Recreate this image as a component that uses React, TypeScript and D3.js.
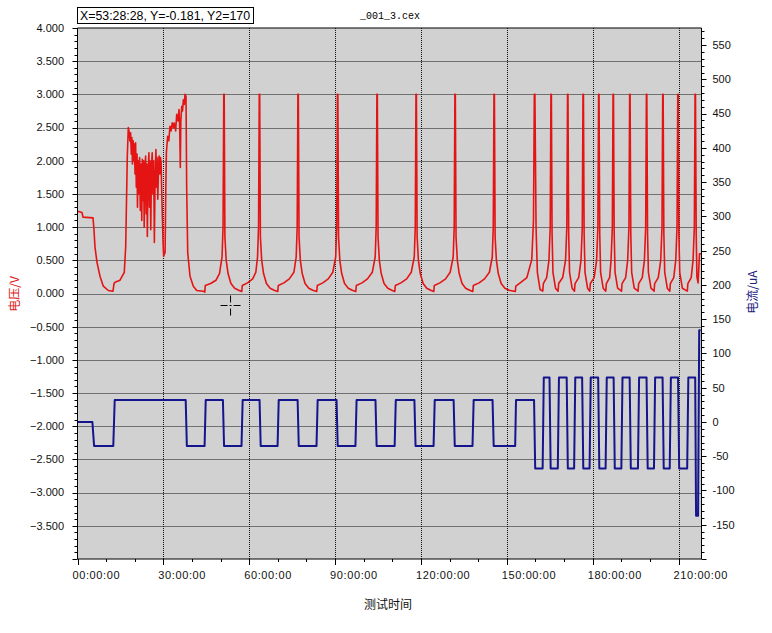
import React, { useMemo } from "react";
import * as d3 from "d3";

const W = 772;
const H = 633;
const M = { left: 77.5, right: 701.5, top: 28, bottom: 559 };

// time axis (hours)
const xDomain: [number, number] = [0, 218];
const xMajorTicks = [0, 30, 60, 90, 120, 150, 180, 210];
const xMinorStep = 10;

// left axis (voltage V)
const yLeftDomain: [number, number] = [-4, 4];
const yLeftLabels = [4, 3.5, 3, 2.5, 2, 1.5, 1, 0.5, 0, -0.5, -1, -1.5, -2, -2.5, -3, -3.5];
const yLeftGrid = [3.5, 3, 2.5, 2, 1.5, 1, 0.5, 0, -0.5, -1, -1.5, -2, -2.5, -3, -3.5];

// right axis (current uA)
const yRightDomain: [number, number] = [-200, 575];
const yRightLabels = [550, 500, 450, 400, 350, 300, 250, 200, 150, 100, 50, 0, -50, -100, -150];

const headerText = "X=53:28:28, Y=-0.181, Y2=170";
const titleText = "_001_3.cex";
const cursor = { t: 53.47, v: -0.181 };

// voltage [hours, V]
const voltage: [number, number][] = [
  [0, 1.24], [1.57, 1.22], [1.92, 1.15], [5.42, 1.14], [5.77, 0.95], [6.11, 0.7], [6.81, 0.47], [7.86, 0.26],
  [9.01, 0.11], [10.76, 0.045], [12.4, 0.035], [12.75, 0.15], [13.1, 0.17], [14.85, 0.2], [16.35, 0.32],
  [16.84, 0.71], [17.4, 2.07], [17.75, 2.5],
  [18.0, 2.45], [18.3, 2.3], [18.55, 2.42], [18.8, 2.1], [19.0, 2.35], [19.2, 1.95], [19.45, 2.3], [19.65, 2.0],
  [19.9, 2.25], [20.1, 1.8], [20.3, 2.27], [20.55, 1.6], [20.8, 2.1], [20.95, 1.3], [21.2, 2.0], [21.45, 1.5],
  [21.7, 2.05], [21.95, 1.25], [22.2, 1.95], [22.45, 1.1], [22.65, 2.02], [22.9, 1.4], [23.1, 2.0], [23.3, 1.0],
  [23.55, 1.9], [23.8, 2.07], [24.0, 1.2], [24.2, 1.95], [24.4, 0.86], [24.65, 1.8], [24.95, 2.12], [25.15, 1.3],
  [25.35, 2.0], [25.6, 0.96], [25.85, 1.9], [26.1, 2.12], [26.35, 1.5], [26.6, 2.0], [26.85, 0.77], [27.1, 1.7],
  [27.4, 2.17], [27.6, 1.6], [27.8, 2.05], [28.05, 1.42], [28.3, 1.9], [28.5, 2.07], [28.75, 1.8], [29.0, 2.05],
  [29.2, 1.97], [29.45, 1.5], [29.65, 1.16], [29.9, 0.75], [30.1, 0.56], [30.4, 0.6], [30.6, 0.62], [30.85, 1.6],
  [31.05, 2.12], [31.5, 2.37], [31.9, 2.3], [32.3, 2.52], [32.7, 2.45], [33.1, 2.57], [33.5, 2.5], [33.8, 2.57],
  [34.3, 2.45], [34.66, 2.7], [35.1, 2.6], [35.46, 2.77], [35.7, 2.5], [35.92, 1.9], [36.1, 2.6], [36.41, 2.82],
  [36.7, 2.75], [36.97, 2.92], [37.3, 2.85], [37.56, 3.0], [37.91, 2.97],
  [38.15, 1.57], [38.5, 0.62], [39.31, 0.26], [40.46, 0.11], [41.65, 0.045], [43.96, 0.035], [44.45, 0.02],
  // C1
  [44.65, 0.12], [46.5, 0.15], [48.4, 0.2], [49.6, 0.3], [50.5, 0.55], [50.85, 1.0], [51.1, 3.0], [51.25, 3.0],
  [51.5, 0.85], [51.95, 0.5], [52.6, 0.3], [53.6, 0.15], [54.9, 0.08], [56.3, 0.05], [57.38, 0.03],
  // C2
  [57.58, 0.12], [59.4, 0.16], [61.2, 0.22], [62.3, 0.32], [62.9, 0.55], [63.25, 1.0], [63.5, 3.0], [63.65, 3.0],
  [63.9, 0.85], [64.35, 0.5], [65.0, 0.3], [66.0, 0.15], [67.3, 0.08], [68.7, 0.05], [69.96, 0.03],
  // C3
  [70.16, 0.12], [72.1, 0.16], [74.0, 0.22], [75.6, 0.32], [76.4, 0.55], [76.75, 1.0], [77.0, 3.0], [77.15, 3.0],
  [77.4, 0.85], [77.85, 0.5], [78.5, 0.3], [79.5, 0.15], [80.8, 0.08], [82.2, 0.05], [83.58, 0.03],
  // C4
  [83.78, 0.12], [85.7, 0.16], [87.6, 0.22], [89.2, 0.32], [90.2, 0.55], [90.55, 1.0], [90.8, 3.0], [90.95, 3.0],
  [91.2, 0.85], [91.65, 0.5], [92.3, 0.3], [93.3, 0.15], [94.6, 0.08], [96.0, 0.05], [97.21, 0.03],
  // C5
  [97.41, 0.12], [99.4, 0.16], [101.3, 0.22], [103.0, 0.32], [104.0, 0.55], [104.35, 1.0], [104.6, 3.0], [104.75, 3.0],
  [105.0, 0.85], [105.45, 0.5], [106.1, 0.3], [107.1, 0.15], [108.4, 0.08], [109.8, 0.05], [110.84, 0.03],
  // C6
  [111.04, 0.12], [113.0, 0.16], [115.0, 0.22], [116.6, 0.32], [117.65, 0.55], [118.0, 1.0], [118.25, 3.0], [118.4, 3.0],
  [118.65, 0.85], [119.1, 0.5], [119.75, 0.3], [120.75, 0.15], [122.0, 0.08], [123.4, 0.05], [124.46, 0.03],
  // C7
  [124.66, 0.12], [126.6, 0.16], [128.6, 0.22], [130.2, 0.32], [131.25, 0.55], [131.6, 1.0], [131.85, 3.0], [132.0, 3.0],
  [132.25, 0.85], [132.7, 0.5], [133.35, 0.3], [134.35, 0.15], [135.6, 0.08], [137.0, 0.05], [138.09, 0.03],
  // C8
  [138.29, 0.12], [140.3, 0.16], [142.2, 0.22], [143.9, 0.32], [144.9, 0.55], [145.25, 1.0], [145.5, 3.0], [145.65, 3.0],
  [145.9, 0.85], [146.35, 0.5], [147.0, 0.3], [148.0, 0.15], [149.3, 0.08], [150.8, 0.05], [152.94, 0.03],
  // C9
  [153.14, 0.11], [155.0, 0.17], [157.0, 0.24], [158.7, 0.51], [159.3, 1.1], [159.6, 3.0], [159.8, 3.0],
  [160.2, 1.0], [160.66, 0.32], [161.6, 0.06], [162.55, 0.035],
  // C10
  [162.75, 0.15], [163.9, 0.24], [164.7, 0.5], [165.15, 1.0], [165.4, 3.0], [165.55, 3.0], [165.8, 0.9], [166.1, 0.32], [167.0, 0.08], [167.9, 0.035],
  // C11
  [168.1, 0.15], [169.5, 0.24], [170.5, 0.5], [170.95, 1.0], [171.2, 3.0], [171.35, 3.0], [171.6, 0.9], [171.9, 0.32], [172.8, 0.08], [173.62, 0.035],
  // C12
  [173.82, 0.15], [175.1, 0.24], [175.9, 0.5], [176.35, 1.0], [176.6, 3.0], [176.75, 3.0], [177.0, 0.9], [177.3, 0.32], [178.2, 0.08], [178.97, 0.035],
  // C13
  [179.17, 0.15], [180.5, 0.24], [181.35, 0.5], [181.8, 1.0], [182.05, 3.0], [182.2, 3.0], [182.45, 0.9], [182.75, 0.32], [183.65, 0.08], [184.56, 0.035],
  // C14
  [184.76, 0.15], [185.9, 0.24], [186.4, 0.5], [186.85, 1.0], [187.1, 3.0], [187.25, 3.0], [187.5, 0.9], [187.8, 0.32], [188.7, 0.08], [190.05, 0.035],
  // C15
  [190.25, 0.15], [191.5, 0.24], [192.2, 0.5], [192.65, 1.0], [192.9, 3.0], [193.05, 3.0], [193.3, 0.9], [193.6, 0.32], [194.5, 0.08], [195.85, 0.035],
  // C16
  [196.05, 0.15], [197.3, 0.24], [198.05, 0.5], [198.5, 1.0], [198.75, 3.0], [198.9, 3.0], [199.15, 0.9], [199.45, 0.32], [200.35, 0.08], [201.44, 0.035],
  // C17
  [201.64, 0.15], [202.9, 0.24], [203.75, 0.5], [204.2, 1.0], [204.45, 3.0], [204.6, 3.0], [204.85, 0.9], [205.15, 0.32], [206.05, 0.08], [206.92, 0.035],
  // C18
  [207.12, 0.15], [208.3, 0.24], [209.0, 0.5], [209.45, 1.0], [209.7, 3.0], [209.85, 3.0], [210.1, 0.9], [210.4, 0.32], [211.3, 0.08], [213.04, 0.035],
  // C19
  [213.24, 0.15], [214.4, 0.24], [215.05, 0.5], [215.5, 1.0], [215.75, 3.0], [215.9, 3.0], [216.15, 0.9], [216.4, 0.25],
  [216.8, 0.16], [217.3, 0.6], [218, 0.6],
];

// current [hours, uA]
const current: [number, number][] = [
  [0, 0], [5.2, 0], [5.8, -35], [12.5, -35], [13.0, 32], [37.8, 32], [38.2, -35], [44.4, -35], [44.8, 32],
  [50.8, 32], [51.2, -35], [57.3, -35], [57.7, 32], [63.6, 32], [64.0, -35], [69.9, -35], [70.3, 32],
  [76.9, 32], [77.3, -35], [83.5, -35], [83.9, 32], [90.5, 32], [90.9, -35], [97.1, -35], [97.5, 32],
  [104.1, 32], [104.5, -35], [110.8, -35], [111.2, 32], [117.7, 32], [118.1, -35], [124.4, -35], [124.8, 32],
  [131.4, 32], [131.8, -35], [138.0, -35], [138.4, 32], [145.0, 32], [145.4, -35], [152.9, -35], [153.2, 32],
  [159.5, 32], [159.9, -68], [162.5, -68], [162.9, 65], [164.9, 65], [165.3, -68], [167.8, -68], [168.2, 65],
  [170.9, 65], [171.3, -68], [173.5, -68], [173.9, 65], [176.3, 65], [176.7, -68], [178.9, -68], [179.3, 65],
  [181.9, 65], [182.3, -68], [184.5, -68], [184.9, 65], [187.3, 65], [187.7, -68], [190.0, -68], [190.4, 65],
  [192.9, 65], [193.3, -68], [195.8, -68], [196.2, 65], [198.8, 65], [199.2, -68], [201.4, -68], [201.8, 65],
  [204.4, 65], [204.8, -68], [206.9, -68], [207.3, 65], [209.8, 65], [210.2, -68], [213.0, -68], [213.4, 65],
  [215.8, 65], [216.1, -137], [216.8, -137], [217.2, 134], [217.7, 134],
];

const FONT = "'Liberation Sans', Arial, sans-serif";
const CJK = "'Noto Sans CJK SC', sans-serif";

const fmtLeft = d3.format(".3f");
const fmtTime = (h: number) => `${String(h).padStart(2, "0")}:00:00`;

export default function App() {
  const x = useMemo(() => d3.scaleLinear().domain(xDomain).range([M.left, M.right]), []);
  const yL = useMemo(() => d3.scaleLinear().domain(yLeftDomain).range([M.bottom, M.top]), []);
  const yR = useMemo(() => d3.scaleLinear().domain(yRightDomain).range([M.bottom, M.top]), []);

  const vPath = d3.line<[number, number]>().x((d) => x(d[0])).y((d) => yL(d[1]))(voltage) || "";
  const iPath = d3.line<[number, number]>().x((d) => x(d[0])).y((d) => yR(d[1]))(current) || "";

  const xMinor = d3.range(0, xDomain[1] + 0.001, xMinorStep);
  const yLMinor = d3.range(-40, 41).map((i) => i / 10);
  const yRMinor = d3.range(yRightDomain[0], yRightDomain[1] + 0.001, 10);

  const cx = x(cursor.t);
  const cy = yL(cursor.v);

  return (
    <svg width={W} height={H} style={{ position: "absolute", left: 0, top: 0, background: "#fff" }}>
      <defs>
        <clipPath id="plotclip">
          <rect x={M.left} y={M.top} width={M.right - M.left} height={M.bottom - M.top} />
        </clipPath>
      </defs>
      <rect x={M.left} y={M.top} width={M.right - M.left} height={M.bottom - M.top} fill="#d1d1d1" />

      {/* grid */}
      {xMajorTicks.filter((t) => t > 0).map((t) => (
        <line key={"gx" + t} x1={Math.round(x(t)) + 0.5} x2={Math.round(x(t)) + 0.5} y1={M.top} y2={M.bottom}
          stroke="#111" strokeWidth={1} strokeDasharray="1,1" />
      ))}
      {yLeftGrid.map((v) => (
        <line key={"gy" + v} x1={M.left} x2={M.right} y1={Math.round(yL(v)) + 0.5} y2={Math.round(yL(v)) + 0.5}
          stroke="#111" strokeWidth={1} strokeDasharray="1,1" />
      ))}

      <g clipPath="url(#plotclip)">
        <path d={iPath} fill="none" stroke="#14148c" strokeWidth={2} strokeLinejoin="round" />
        <path d={vPath} fill="none" stroke="#e41414" strokeWidth={1.6} strokeLinejoin="round" />
      </g>

      {/* cursor crosshair */}
      <g stroke="#000" strokeWidth={1}>
        <line x1={cx - 10} x2={cx - 3} y1={cy} y2={cy} />
        <line x1={cx + 3} x2={cx + 10} y1={cy} y2={cy} />
        <line x1={cx} x2={cx} y1={cy - 10} y2={cy - 3} />
        <line x1={cx} x2={cx} y1={cy + 3} y2={cy + 10} />
        <line x1={cx - 1} x2={cx + 1} y1={cy} y2={cy} />
      </g>

      {/* frame / axes */}
      <line x1={M.left} x2={M.right} y1={M.top} y2={M.top} stroke="#000" />
      <line x1={M.left} x2={M.left} y1={M.top} y2={M.bottom} stroke="#000" />
      <line x1={M.right} x2={M.right} y1={M.top} y2={M.bottom} stroke="#000" />
      <line x1={M.left} x2={M.right} y1={M.bottom} y2={M.bottom} stroke="#000" />

      {/* left axis ticks */}
      {yLMinor.map((v) => {
        const major = Math.abs(v * 2 - Math.round(v * 2)) < 1e-6;
        const yy = Math.round(yL(v)) + 0.5;
        return <line key={"lt" + v} x1={M.left - (major ? 5 : 3)} x2={M.left} y1={yy} y2={yy} stroke="#000" />;
      })}
      {yLeftLabels.map((v) => (
        <text key={"ll" + v} x={64} y={yL(v)} dy="0.35em" textAnchor="end" fontFamily={FONT} fontSize={11} fill="#111">
          {fmtLeft(v)}
        </text>
      ))}

      {/* right axis ticks */}
      {yRMinor.map((v) => {
        const major = v % 50 === 0;
        const yy = Math.round(yR(v)) + 0.5;
        return <line key={"rt" + v} x1={M.right} x2={M.right + (major ? 5 : 3)} y1={yy} y2={yy} stroke="#000" />;
      })}
      {yRightLabels.map((v) => (
        <text key={"rl" + v} x={712.5} y={yR(v)} dy="0.35em" textAnchor="start" fontFamily={FONT} fontSize={11} fill="#111">
          {String(v)}
        </text>
      ))}

      {/* bottom axis ticks */}
      {xMinor.map((t) => {
        const major = t % 30 === 0;
        const xx = Math.round(x(t)) + 0.5;
        return <line key={"bt" + t} x1={xx} x2={xx} y1={M.bottom} y2={M.bottom + (major ? 6 : 3)} stroke="#000" />;
      })}
      {xMajorTicks.map((t) => (
        <text key={"bl" + t} x={x(t) - 5} y={579} textAnchor="start" fontFamily={FONT} fontSize={11} letterSpacing={0.6} fill="#111">
          {fmtTime(t)}
        </text>
      ))}

      {/* axis titles */}
      <text x={388} y={609} textAnchor="middle" fontFamily={CJK} fontSize={12} fill="#111">测试时间</text>
      <text transform="translate(19,294) rotate(-90)" textAnchor="middle" fontFamily={CJK} fontSize={12} fill="#dd2020">电压/V</text>
      <text transform="translate(757,292) rotate(-90)" textAnchor="middle" fontFamily={CJK} fontSize={12} fill="#202080">电流/uA</text>

      {/* header */}
      <rect x={77.5} y={7.5} width={176} height={16} fill="#fff" stroke="#000" />
      <text x={80} y={20} fontFamily={FONT} fontSize={12} textLength={170} lengthAdjust="spacingAndGlyphs" fill="#000">
        {headerText}
      </text>
      <text x={360} y={19} fontFamily="'Liberation Mono', monospace" fontSize={10} fill="#000">{titleText}</text>
    </svg>
  );
}
